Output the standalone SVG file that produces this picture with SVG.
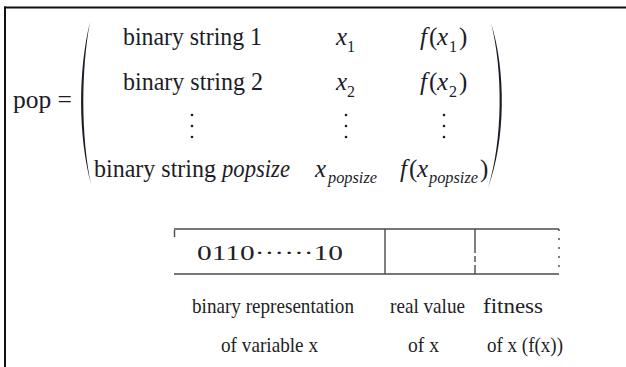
<svg xmlns="http://www.w3.org/2000/svg" width="626" height="367" viewBox="0 0 626 367">
<style>
.t{font-family:'Liberation Serif','Times New Roman',Times,serif;fill:#1c1c28;font-size:25px}
.i{font-style:italic}
.s{font-size:16px}
.lb{font-family:'Liberation Serif','Times New Roman',Times,serif;fill:#222;font-size:22px}
.bx{stroke:#4a4a4a;stroke-width:1.4;fill:none}
.dot{fill:#1c1c28}
</style>
<rect width="626" height="367" fill="#fff"/>
<g id="frame">
<line x1="4" y1="7.5" x2="626" y2="7.5" stroke="#111" stroke-width="2"/>
<line x1="5" y1="6.5" x2="5" y2="367" stroke="#111" stroke-width="2"/>
</g>
<g id="matrix">
<text class="t" x="13" y="108" textLength="59" lengthAdjust="spacingAndGlyphs">pop =</text>
<path d="M90 22 C78 70 78 136 91 184 C81 136 81 70 90 22 Z" fill="#1c1c28"/>
<path d="M491 23 C506 70 506 140 488 188 C503 140 503 70 491 23 Z" fill="#1c1c28"/>
<text class="t" x="123" y="45" textLength="139" lengthAdjust="spacingAndGlyphs">binary string 1</text>
<text class="t" x="123" y="90" textLength="140" lengthAdjust="spacingAndGlyphs">binary string 2</text>
<text class="t" x="94" y="177" textLength="122" lengthAdjust="spacingAndGlyphs">binary string</text>
<text class="t i" x="222" y="177" textLength="68" lengthAdjust="spacingAndGlyphs">popsize</text>
<text class="t i" x="336" y="45">x</text><text class="t s" x="347" y="52">1</text>
<text class="t i" x="336" y="90">x</text><text class="t s" x="347" y="97">2</text>
<text class="t i" x="315" y="177">x</text><text class="t s i" x="328" y="183" textLength="49" lengthAdjust="spacingAndGlyphs">popsize</text>
<text class="t i" x="420" y="45">f</text><text class="t" x="429" y="45">(</text><text class="t i" x="437" y="45">x</text><text class="t s" x="449" y="52">1</text><text class="t" x="459" y="45">)</text>
<text class="t i" x="420" y="90">f</text><text class="t" x="429" y="90">(</text><text class="t i" x="437" y="90">x</text><text class="t s" x="449" y="97">2</text><text class="t" x="459" y="90">)</text>
<text class="t i" x="400" y="177">f</text><text class="t" x="409" y="177">(</text><text class="t i" x="417" y="177">x</text><text class="t s i" x="429" y="183" textLength="49" lengthAdjust="spacingAndGlyphs">popsize</text><text class="t" x="480" y="177">)</text>
<circle class="dot" cx="192" cy="115" r="1.3"/><circle class="dot" cx="192" cy="126" r="1.3"/><circle class="dot" cx="192" cy="137" r="1.3"/>
<circle class="dot" cx="346" cy="115" r="1.3"/><circle class="dot" cx="346" cy="126" r="1.3"/><circle class="dot" cx="346" cy="137" r="1.3"/>
<circle class="dot" cx="444" cy="115" r="1.3"/><circle class="dot" cx="444" cy="126" r="1.3"/><circle class="dot" cx="444" cy="137" r="1.3"/>
</g>
<g id="chromosome">
<line class="bx" x1="174" y1="229" x2="559" y2="229"/>
<line class="bx" x1="174" y1="274" x2="559" y2="274"/>
<line class="bx" x1="174.5" y1="230" x2="174.5" y2="237"/>
<line class="bx" x1="385" y1="229" x2="385" y2="274"/>
<line class="bx" x1="475" y1="229" x2="475" y2="274" stroke-dasharray="24 3 6 3"/>
<line class="bx" x1="559" y1="229" x2="559" y2="274" stroke-dasharray="2 7"/>
<text class="lb" x="197" y="260" textLength="146" lengthAdjust="spacingAndGlyphs">0110······10</text>
</g>
<g id="labels">
<text class="lb" x="192" y="313" textLength="162" lengthAdjust="spacingAndGlyphs">binary representation</text>
<text class="lb" x="221" y="352" textLength="97" lengthAdjust="spacingAndGlyphs">of variable x</text>
<text class="lb" x="390" y="313" textLength="75" lengthAdjust="spacingAndGlyphs">real value</text>
<text class="lb" x="408" y="352" textLength="31" lengthAdjust="spacingAndGlyphs">of x</text>
<text class="lb" x="483" y="313" textLength="60" lengthAdjust="spacingAndGlyphs">fitness</text>
<text class="lb" x="487" y="352" textLength="76" lengthAdjust="spacingAndGlyphs">of x (f(x))</text>
</g>
</svg>
